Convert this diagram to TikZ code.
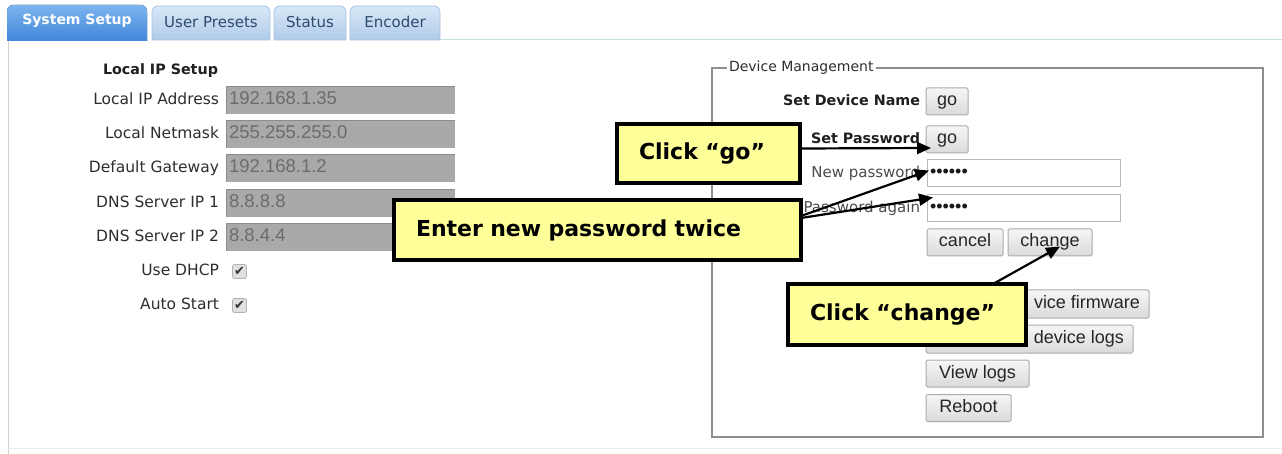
\documentclass[tikz,border=0pt]{standalone}
\usepackage{fontspec}
\setmainfont{DejaVu Sans}
\newfontfamily\arialf{Liberation Sans}
\usetikzlibrary{arrows.meta}
\definecolor{tabAa}{HTML}{7DB4EE}
\definecolor{tabAb}{HTML}{3F86DA}
\definecolor{tabIa}{HTML}{D8E8F8}
\definecolor{tabIb}{HTML}{AFCBE9}
\definecolor{tabborder}{HTML}{A7C2DE}
\definecolor{tabtext}{HTML}{2E4B6E}
\definecolor{tealline}{HTML}{BFE2DA}
\definecolor{fieldgray}{HTML}{A9A9A9}
\definecolor{fieldtext}{HTML}{6C6C6C}
\definecolor{labc}{HTML}{2E2E2E}
\definecolor{calloutc}{HTML}{FFFF99}
\definecolor{btna}{HTML}{F6F6F6}
\definecolor{btnb}{HTML}{DADADA}
\definecolor{btnline}{HTML}{ABABAB}
\definecolor{dmgray}{HTML}{8E8E8E}
\newcommand\fsz[1]{\fontsize{#1}{#1}\selectfont}
\begin{document}
\begin{tikzpicture}[x=1pt,y=-1pt,
 every node/.style={inner sep=0pt, outer sep=0pt},
 lbl/.style={anchor=east, text=labc, font=\fsz{15.5}, text height=11pt, text depth=3pt},
 blbl/.style={anchor=east, text=black!88, font=\fsz{14.3}\bfseries, text height=11pt, text depth=3pt},
 plbl/.style={anchor=east, text=black!70, font=\fsz{15}, text height=11pt, text depth=3pt},
 field/.style={fill=fieldgray, minimum width=229pt, minimum height=27pt},
 fval/.style={anchor=west, text=fieldtext, font=\arialf\fsz{18.5}, text height=13pt, text depth=4pt},
 wfield/.style={fill=white, draw=black!28, line width=1pt, minimum width=193pt, minimum height=27pt},
 dots/.style={anchor=west, text=black!90, font=\arialf\fsz{18}, text height=13pt, text depth=4pt},
 btn/.style={top color=btna, bottom color=btnb, draw=btnline, line width=1pt, rounded corners=1.5pt,
   font=\arialf\fsz{18}, text=black!85, minimum height=27pt, text height=13pt, text depth=4pt},
 btxt/.style={anchor=east, font=\arialf\fsz{18}, text=black!85, text height=13pt, text depth=4pt},
 callout/.style={fill=calloutc, draw=black, line width=4pt, font=\fsz{22}\bfseries, align=left, inner xsep=22pt},
 arr/.style={line width=2.2pt, -{Triangle[length=14pt,width=12pt]}},
 chk/.style={fill=black!12, draw=black!30, line width=0.8pt, rounded corners=2pt, minimum size=14pt, font=\fsz{13}, text=black!80},
 tabt/.style={font=\fsz{15}, text=tabtext},
]
\useasboundingbox (0,0) rectangle (1282,454);
\fill[white] (0,0) rectangle (1282,454);

% tabs
\fill[top color=tabAa, bottom color=tabAb] (7,41) -- (7,11) to[out=90,in=180] (13,5) -- (141,5) to[out=0,in=90] (147,11) -- (147,41) -- cycle;
\foreach \xa/\xb in {152/270, 274/346, 350/440}{
  \path[top color=tabIa, bottom color=tabIb, draw=tabborder, line width=0.8pt]
    (\xa,40) -- (\xa,12) to[out=90,in=180] (\xa+6,6) -- (\xb-6,6) to[out=0,in=90] (\xb,12) -- (\xb,40) -- cycle;
}
\node[font=\fsz{14}\bfseries, text=white] (tabsys) at (77,21) {System Setup};
\node[tabt] (tabusr) at (211,22) {User Presets};
\node[tabt] (tabsta) at (310,22) {Status};
\node[tabt] (tabenc) at (395,22) {Encoder};
\draw[tealline, line width=1.2pt] (440,39.5) -- (1282,39.5);
\draw[black!18, line width=1pt] (8,41) -- (8,454);
\draw[black!8, line width=1pt] (8,448) -- (1282,448);

% left panel
\node[blbl] (lipsetup) at (218,71) {Local IP Setup};
\foreach \nm/\yc/\lab/\val in {f1/100.5/Local IP Address/192.168.1.35,
  f2/134.5/Local Netmask/255.255.255.0,
  f3/168.5/Default Gateway/192.168.1.2,
  f4/203.5/DNS Server IP 1/8.8.8.8,
  f5/237.5/DNS Server IP 2/8.8.4.4}{
  \node[field] (\nm) at (340.5,\yc) {};
  \draw[black!45, line width=1pt] (\nm.north west) -- (\nm.north east);
  \draw[black!45, line width=1pt] (\nm.north west) -- (\nm.south west);
  \node[lbl] (\nm l) at (219,\yc) {\lab};
  \node[fval] (\nm v) at (229,\yc) {\val};
}
\node[lbl] (dhcpl) at (219,271.5) {Use DHCP};
\node[chk] (dhcpc) at (239.5,271.5) {✔};
\node[lbl] (autol) at (219,305.5) {Auto Start};
\node[chk] (autoc) at (239.5,305.5) {✔};

% device management
\draw[dmgray, line width=1.5pt] (712,68) rectangle (1263,437);
\node[fill=white, anchor=west, font=\fsz{14}, text=labc, inner xsep=2pt, text height=11pt, text depth=3pt] (dmleg) at (727,68) {Device Management};
\node[blbl] (sdn) at (920,101.5) {Set Device Name};
\node[btn, minimum width=42pt] (go1) at (947,101.5) {go};
\node[blbl] (spw) at (920,139.5) {Set Password};
\node[btn, minimum width=42pt] (go2) at (947,139.5) {go};
\node[plbl] (npl) at (920,173.5) {New password};
\node[wfield] (pw1) at (1023.5,173.5) {};
\node[dots] (pw1d) at (930,173.5) {••••••};
\node[plbl] (pal) at (920,208.5) {Password again};
\node[wfield] (pw2) at (1023.5,208.5) {};
\node[dots] (pw2d) at (930,208.5) {••••••};
\node[btn, minimum width=76pt] (cancel) at (965,242.5) {cancel};
\node[btn, minimum width=84pt] (chgbtn) at (1050,242.5) {change};
\node[btn, minimum width=223pt, minimum height=28pt] (fwbtn) at (1037.5,304) {};
\node[btxt] (fwt) at (1140,304) {vice firmware};
\node[btn, minimum width=207pt, minimum height=28pt] (logbtn) at (1029.5,339) {};
\node[btxt] (logt) at (1124,339) {device logs};
\node[btn, minimum width=103pt] (viewlogs) at (977.5,373.5) {View logs};
\node[btn, minimum width=85pt] (reboot) at (968.5,408) {Reboot};

% callouts
\node[callout, minimum width=183pt, minimum height=59pt, text width=139pt] (cgo) at (708.5,153.5) {Click “go”};
\node[callout, minimum width=407pt, minimum height=60pt, text width=363pt] (enter) at (597.5,230) {Enter new password twice};
\node[callout, minimum width=238pt, minimum height=61pt, text width=194pt] (cchg) at (907,314.5) {Click “change”};

% arrows
\draw[arr] ([yshift=5pt]cgo.east) -- ([shift={(5pt,5pt)}]go2.south west);
\draw[arr] ([yshift=14pt]enter.east) -- ([shift={(2pt,3pt)}]pw1.west);
\draw[arr] ([yshift=12pt]enter.east) -- ([shift={(6pt,11pt)}]pw2.west);
\draw[arr] ([xshift=86pt]cchg.north) -- ([shift={(10pt,-4pt)}]chgbtn.center);
\end{tikzpicture}
\end{document}
